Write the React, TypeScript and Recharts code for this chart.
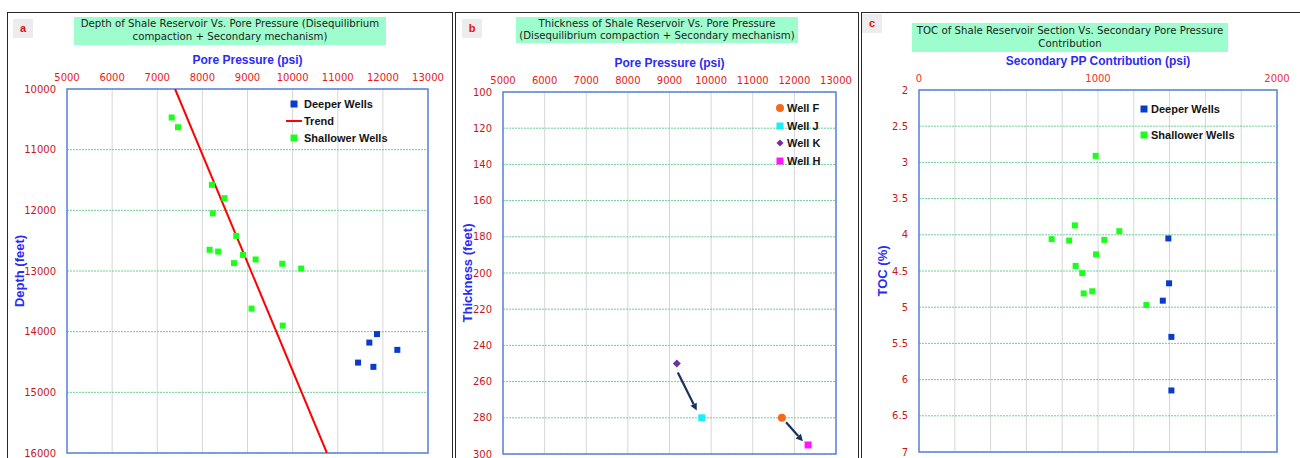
import React from 'react';
import {
  ScatterChart,
  Scatter,
  XAxis,
  YAxis,
  CartesianGrid,
  ReferenceArea,
  ReferenceLine,
  Legend,
} from 'recharts';

// ---- panel a : depth vs pore pressure
const aPressureTicks = [5000, 6000, 7000, 8000, 9000, 10000, 11000, 12000, 13000];
const aDepthTicks = [10000, 11000, 12000, 13000, 14000, 15000, 16000];
const aShallowPressure = [7320, 7460, 8210, 8490, 8230, 8750, 8160, 8350, 8900, 9180, 8700, 9770, 10190, 9090, 9780];
const aShallowDepth = [10470, 10630, 11580, 11800, 12050, 12420, 12650, 12680, 12735, 12810, 12870, 12880, 12960, 13620, 13900];
const aDeepPressure = [11870, 11700, 12320, 11450, 11790];
const aDeepDepth = [14040, 14180, 14300, 14510, 14580];
const aTrendPressure = [7395, 10760];
const aTrendDepth = [10000, 16000];

// ---- panel b : thickness vs pore pressure
const bPressureTicks = [5000, 6000, 7000, 8000, 9000, 10000, 11000, 12000, 13000];
const bThicknessTicks = [100, 120, 140, 160, 180, 200, 220, 240, 260, 280, 300];
const bWellNames = ['Well F', 'Well J', 'Well K', 'Well H'];
const bWellPressure = [11700, 9775, 9175, 12330];
const bWellThickness = [280, 280, 250, 295];
const bArrowFrom = [[9200, 255], [11800, 282.5]];
const bArrowTo = [[9655, 276], [12205, 293]];

// ---- panel c : TOC vs secondary PP contribution
const cContribTicks = [0, 200, 400, 600, 800, 1000, 1200, 1400, 1600, 1800, 2000];
const cTocTicks = [2, 2.5, 3, 3.5, 4, 4.5, 5, 5.5, 6, 6.5, 7];
const cShallowContrib = [987, 871, 1119, 741, 839, 1035, 989, 875, 912, 968, 920, 1270];
const cShallowToc = [2.91, 3.87, 3.95, 4.06, 4.08, 4.07, 4.27, 4.43, 4.53, 4.78, 4.81, 4.97];
const cDeepContrib = [1393, 1397, 1362, 1410, 1410];
const cDeepToc = [4.05, 4.67, 4.91, 5.41, 6.15];

const zip = (xs: number[], ys: number[]) => xs.map((x, i) => ({ x, y: ys[i] }));

const GREEN = '#1cff1c';
const BLUE = '#0a3ccc';
const WELL_COLORS = ['#f26b1d', '#19f0f5', '#7030a0', '#ff14ff'];
const WELL_SHAPES = ['circle', 'square', 'diamond', 'square'];

const TICK_FONT = '"DejaVu Sans", Verdana, sans-serif';
const X_TICK = { fill: '#e81a1a', fontSize: 10, fontFamily: TICK_FONT };
const Y_TICK = { fill: '#c8161c', fontSize: 10, fontFamily: TICK_FONT };
const AXIS_TITLE = { fill: '#2b2bf5', fontSize: 12, fontWeight: 'bold' as const };
const Y_TITLE = { ...AXIS_TITLE, fontSize: 13 };

const square = (size: number, color: string) => (p: any) => (
  <rect x={p.cx - size / 2} y={p.cy - size / 2} width={size} height={size} fill={color} />
);
const circle = (r: number, color: string) => (p: any) => <circle cx={p.cx} cy={p.cy} r={r} fill={color} />;
const diamond = (s: number, color: string) => (p: any) => (
  <polygon points={`${p.cx},${p.cy - s} ${p.cx + s},${p.cy} ${p.cx},${p.cy + s} ${p.cx - s},${p.cy}`} fill={color} />
);
const noDot = () => <g />;

const Arrow = (p: any) => {
  const { x1, y1, x2, y2 } = p;
  const a = Math.atan2(y2 - y1, x2 - x1);
  const len = 7;
  const half = 3.5;
  const bx = x2 - len * Math.cos(a);
  const by = y2 - len * Math.sin(a);
  const nx = -Math.sin(a) * half;
  const ny = Math.cos(a) * half;
  return (
    <g>
      <line x1={x1} y1={y1} x2={bx} y2={by} stroke="#1a2f5e" strokeWidth={2.2} />
      <polygon points={`${x2},${y2} ${bx + nx},${by + ny} ${bx - nx},${by - ny}`} fill="#1a2f5e" />
    </g>
  );
};

type LegendRow = { name: string; color: string; icon: string };

const legendContent = (rows: LegendRow[], rowH: number, iconW: number) => () => (
  <div style={{ fontSize: 11, fontWeight: 'bold', color: '#141414' }}>
    {rows.map((r) => (
      <div key={r.name} style={{ display: 'flex', alignItems: 'center', height: rowH }}>
        <svg width={iconW} height={10} style={{ marginRight: 2 }}>
          {r.icon === 'square' && <rect x={iconW / 2 - 3.5} y={1.5} width={7} height={7} fill={r.color} />}
          {r.icon === 'circle' && <circle cx={iconW / 2} cy={5} r={4} fill={r.color} />}
          {r.icon === 'diamond' && <polygon points={`${iconW / 2},1.5 ${iconW / 2 + 3.5},5 ${iconW / 2},8.5 ${iconW / 2 - 3.5},5`} fill={r.color} />}
          {r.icon === 'line' && <line x1={0} y1={5} x2={iconW} y2={5} stroke={r.color} strokeWidth={2} />}
        </svg>
        <span>{r.name}</span>
      </div>
    ))}
  </div>
);

const legendPos = (left: number, top: number) => ({ left, top, width: 'auto', height: 'auto' });

const Frame = ({ left, width }: { left: number; width: number }) => (
  <div style={{ position: 'absolute', left, top: 12, width, height: 470, border: '1px solid #262626', boxSizing: 'border-box' }} />
);

const Title = ({ left, top, width, height, pad, lines }: any) => (
  <div
    style={{
      position: 'absolute', left, top, width, height, background: '#9dfdcc', color: '#1e1e1e',
      fontFamily: TICK_FONT, fontSize: 10.2, lineHeight: '12.6px', textAlign: 'center', paddingTop: pad,
      boxSizing: 'border-box', whiteSpace: 'nowrap',
    }}
  >
    {lines.map((l: string) => <div key={l}>{l}</div>)}
  </div>
);

const Tag = ({ left, top, text }: any) => (
  <div
    style={{
      position: 'absolute', left, top, width: 20, height: 19, background: '#ececec', color: '#e01010',
      fontSize: 11, fontWeight: 'bold', textAlign: 'center', lineHeight: '19px',
    }}
  >
    {text}
  </div>
);

export default function App() {
  const aShallow = zip(aShallowPressure, aShallowDepth);
  const aDeep = zip(aDeepPressure, aDeepDepth);
  const aTrend = zip(aTrendPressure, aTrendDepth);
  const cShallow = zip(cShallowContrib, cShallowToc);
  const cDeep = zip(cDeepContrib, cDeepToc);

  const wellShape = (i: number) => {
    const c = WELL_COLORS[i];
    if (WELL_SHAPES[i] === 'circle') return circle(4, c);
    if (WELL_SHAPES[i] === 'diamond') return diamond(4, c);
    return square(7, c);
  };

  return (
    <div
      style={{
        position: 'absolute', left: 0, top: 0, width: 1300, height: 458, overflow: 'hidden',
        background: '#fff', fontFamily: '"Liberation Sans", Arial, sans-serif',
      }}
    >
      <Frame left={7} width={446} />
      <Frame left={455} width={404} />
      <Frame left={861} width={460} />

      {/* a */}
      <div style={{ position: 'absolute', left: 0, top: 0 }}>
        <ScatterChart width={452} height={458} margin={{ top: 69, right: 24, bottom: 5, left: 7 }}>
          <CartesianGrid horizontal={false} stroke="#d6d6d6" />
          <CartesianGrid vertical={false} stroke="#6fcf97" strokeDasharray="2 1" />
          <XAxis
            type="number" dataKey="x" orientation="top" domain={[5000, 13000]} ticks={aPressureTicks} interval={0}
            axisLine={false} tickLine={false} tick={X_TICK} height={20} allowDataOverflow
            label={{ value: 'Pore Pressure (psi)', position: 'top', offset: 5, ...AXIS_TITLE }}
          />
          <YAxis
            type="number" dataKey="y" reversed domain={[10000, 16000]} ticks={aDepthTicks} interval={0}
            axisLine={false} tickLine={false} tick={Y_TICK} tickMargin={5} width={60} allowDataOverflow
            label={{ value: 'Depth (feet)', angle: -90, position: 'center', dx: -18, ...Y_TITLE }}
          />
          <ReferenceArea x1={5000} x2={13000} y1={10000} y2={16000} fill="none" stroke="#5f82e0" strokeWidth={1.5} ifOverflow="visible" />
          <Scatter name="Trend" data={aTrend} fill="#ff0000" line={{ stroke: '#ff0000', strokeWidth: 2 }} shape={noDot} isAnimationActive={false} />
          <Scatter name="Shallower Wells" data={aShallow} fill={GREEN} shape={square(6, GREEN)} isAnimationActive={false} />
          <Scatter name="Deeper Wells" data={aDeep} fill={BLUE} shape={square(6, BLUE)} isAnimationActive={false} />
          <Legend
            layout="vertical" align="center" verticalAlign="middle" wrapperStyle={legendPos(286, 95.5)}
            content={legendContent(
              [
                { name: 'Deeper Wells', color: BLUE, icon: 'square' },
                { name: 'Trend', color: '#ff0000', icon: 'line' },
                { name: 'Shallower Wells', color: GREEN, icon: 'square' },
              ],
              17,
              16,
            )}
          />
        </ScatterChart>
      </div>

      {/* b */}
      <div style={{ position: 'absolute', left: 452, top: 0 }}>
        <ScatterChart width={406} height={458} margin={{ top: 72, right: 22, bottom: 4, left: 11 }}>
          <CartesianGrid horizontal={false} stroke="#d6d6d6" />
          <CartesianGrid vertical={false} stroke="#6fcf97" strokeDasharray="2 1" />
          <XAxis
            type="number" dataKey="x" orientation="top" domain={[5000, 13000]} ticks={bPressureTicks} interval={0}
            axisLine={false} tickLine={false} tick={X_TICK} height={20} allowDataOverflow
            label={{ value: 'Pore Pressure (psi)', position: 'top', offset: 5, ...AXIS_TITLE }}
          />
          <YAxis
            type="number" dataKey="y" reversed domain={[100, 300]} ticks={bThicknessTicks} interval={0}
            axisLine={false} tickLine={false} tick={Y_TICK} tickMargin={5} width={40} allowDataOverflow
            label={{ value: 'Thickness (feet)', angle: -90, position: 'center', dx: -16, ...Y_TITLE }}
          />
          <ReferenceArea x1={5000} x2={13000} y1={100} y2={300} fill="none" stroke="#5f82e0" strokeWidth={1.5} ifOverflow="visible" />
          {bArrowFrom.map((f, i) => (
            <ReferenceLine
              key={i}
              segment={[{ x: f[0], y: f[1] }, { x: bArrowTo[i][0], y: bArrowTo[i][1] }]}
              shape={Arrow}
              ifOverflow="visible"
            />
          ))}
          {bWellNames.map((n, i) => (
            <Scatter
              key={n} name={n} data={[{ x: bWellPressure[i], y: bWellThickness[i] }]} fill={WELL_COLORS[i]}
              shape={wellShape(i)} isAnimationActive={false}
            />
          ))}
          <Legend
            layout="vertical" align="center" verticalAlign="middle" wrapperStyle={legendPos(323, 99.5)}
            content={legendContent(
              bWellNames.map((n, i) => ({ name: n, color: WELL_COLORS[i], icon: WELL_SHAPES[i] })),
              17.5,
              10,
            )}
          />
        </ScatterChart>
      </div>

      {/* c */}
      <div style={{ position: 'absolute', left: 861, top: 0 }}>
        <ScatterChart width={439} height={458} margin={{ top: 70, right: 23, bottom: 6, left: 28 }}>
          <CartesianGrid horizontal={false} stroke="#d6d6d6" />
          <CartesianGrid vertical={false} stroke="#6fcf97" strokeDasharray="2 1" />
          <XAxis
            type="number" dataKey="x" orientation="top" domain={[0, 2000]} ticks={cContribTicks} interval={0}
            axisLine={false} tickLine={false} tick={{ ...X_TICK, fill: '#f03030' }} height={20} allowDataOverflow
            tickFormatter={(v: number) => (v % 1000 === 0 ? String(v) : '')}
            label={{ value: 'Secondary PP Contribution (psi)', position: 'top', offset: 5, ...AXIS_TITLE }}
          />
          <YAxis
            type="number" dataKey="y" reversed domain={[2, 7]} ticks={cTocTicks} interval={0}
            axisLine={false} tickLine={false} tick={Y_TICK} tickMargin={5} width={30} allowDataOverflow
            label={{ value: 'TOC (%)', angle: -90, position: 'center', dx: -22, ...Y_TITLE }}
          />
          <ReferenceArea x1={0} x2={2000} y1={2} y2={7} fill="none" stroke="#5f82e0" strokeWidth={1.5} ifOverflow="visible" />
          <Scatter name="Shallower Wells" data={cShallow} fill={GREEN} shape={square(6, GREEN)} isAnimationActive={false} />
          <Scatter name="Deeper Wells" data={cDeep} fill={BLUE} shape={square(6, BLUE)} isAnimationActive={false} />
          <Legend
            layout="vertical" align="center" verticalAlign="middle" wrapperStyle={legendPos(278, 96)}
            content={legendContent(
              [
                { name: 'Deeper Wells', color: BLUE, icon: 'square' },
                { name: 'Shallower Wells', color: GREEN, icon: 'square' },
              ],
              25.7,
              10,
            )}
          />
        </ScatterChart>
      </div>

      <Title left={74} top={17} width={312} height={28} pad={1.4}
        lines={['Depth of Shale Reservoir Vs. Pore Pressure (Disequilibrium', 'compaction + Secondary mechanism)']} />
      <Title left={516} top={17} width={282} height={26} pad={0.7}
        lines={['Thickness of Shale Reservoir Vs. Pore Pressure', '(Disequilibrium compaction + Secondary mechanism)']} />
      <Title left={912} top={23} width={316} height={29} pad={2.4}
        lines={['TOC of Shale Reservoir Section Vs. Secondary Pore Pressure', 'Contribution']} />

      <Tag left={13} top={19} text="a" />
      <Tag left={462} top={19} text="b" />
      <Tag left={862} top={14} text="c" />
    </div>
  );
}
